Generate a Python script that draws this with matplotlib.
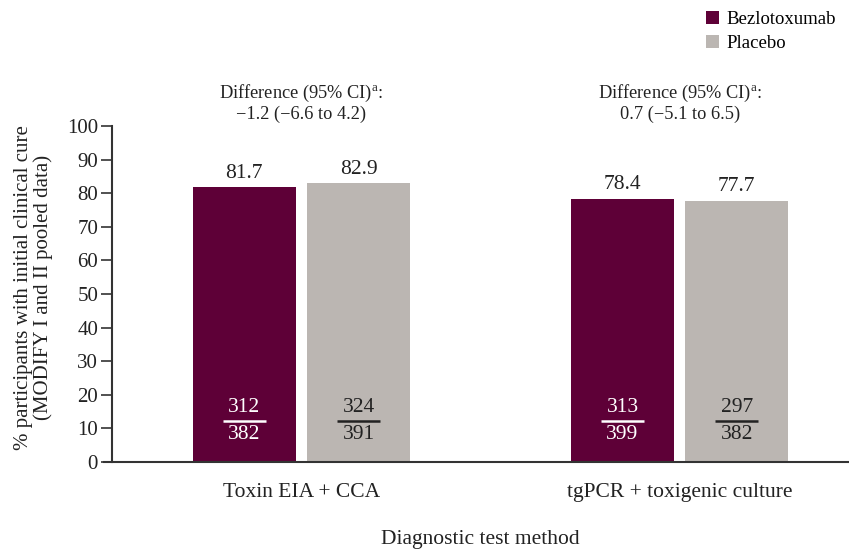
import matplotlib
matplotlib.use("Agg")
import matplotlib.pyplot as plt
from matplotlib.patches import Patch
import numpy as np

plt.rcParams['font.family'] = ['Liberation Serif', 'DejaVu Serif']
plt.rcParams['mathtext.fontset'] = 'custom'
plt.rcParams['mathtext.rm'] = 'Liberation Serif'
plt.rcParams['mathtext.it'] = 'Liberation Serif:italic'

categories = ["Toxin EIA + CCA", "tgPCR + toxigenic culture"]
series_names = ["Bezlotoxumab", "Placebo"]
bezlo = [81.7, 78.4]
placebo = [82.9, 77.7]
bezlo_n = [312, 313]
bezlo_d = [382, 399]
placebo_n = [324, 297]
placebo_d = [391, 382]
diff_line2 = ["\u22121.2 (\u22126.6 to 4.2)", "0.7 (\u22125.1 to 6.5)"]
yticks = [0, 10, 20, 30, 40, 50, 60, 70, 80, 90, 100]

c_bez = "#5E0037"
c_pla = "#BBB6B2"
txt = "#222222"

fig = plt.figure(figsize=(8.49, 5.5), dpi=100)
ax = fig.add_axes([112/849, 88/550, 737/849, 336/550])

x = np.arange(len(categories))
w = 0.2725
off = 0.151
ax.bar(x - off, bezlo, width=w, color=c_bez, zorder=2)
ax.bar(x + off, placebo, width=w, color=c_pla, zorder=2)

fs_val = 15.5
fs_diff = 13.2
for i in range(len(categories)):
    for xi, v, n, d, tc in [(x[i] - off, bezlo[i], bezlo_n[i], bezlo_d[i], "white"),
                            (x[i] + off, placebo[i], placebo_n[i], placebo_d[i], txt)]:
        ax.text(xi, v + 4.3, f"{v:.1f}", ha="center", va="center", fontsize=fs_val, color=txt)
        ax.text(xi, 16.3, str(n), ha="center", va="center", fontsize=fs_val, color=tc)
        ax.plot([xi - 0.057, xi + 0.057], [12.2, 12.2], color=tc, lw=1.8, zorder=3,
                solid_capstyle="butt")
        ax.text(xi, 8.3, str(d), ha="center", va="center", fontsize=fs_val, color=tc)
    ax.text(x[i], 109.6, "Difference (95% CI)$^{\\mathrm{a}}$:", ha="center", va="center",
            fontsize=fs_diff, color=txt)
    ax.text(x[i], 103.4, diff_line2[i], ha="center", va="center", fontsize=fs_diff, color=txt)

ax.spines["bottom"].set_position(("data", 0))
ax.set_xlim(-0.501, 1.448)
ax.set_ylim(0, 100)
ax.set_yticks(yticks)
ax.set_yticklabels([str(t) for t in yticks], fontsize=15, color=txt)
ax.set_xticks(x)
ax.set_xticklabels(categories, fontsize=15.5, color=txt)
ax.tick_params(axis="x", length=0, pad=15)
ax.tick_params(axis="y", length=8, width=1.2, color="#333333", pad=2)
for s in ["top", "right"]:
    ax.spines[s].set_visible(False)
for s in ["left", "bottom"]:
    ax.spines[s].set_color("#333333")
    ax.spines[s].set_linewidth(1.5)
ax.spines["bottom"].set_bounds(-0.523, 1.448)

ax.set_ylabel("% participants with initial clinical cure\n(MODIFY I and II pooled data)",
              fontsize=15, color=txt, linespacing=1.05)
ax.yaxis.set_label_coords(-0.08, 0.52)
ax.set_xlabel("Diagnostic test method", fontsize=15.5, color=txt, labelpad=20)

handles = [Patch(facecolor=c_bez, edgecolor="none"), Patch(facecolor=c_pla, edgecolor="none")]
fig.legend(handles, series_names, loc="upper left", bbox_to_anchor=(695/849, 1.0),
           frameon=False, fontsize=13.5, handlelength=0.7, handleheight=0.7,
           handletextpad=0.4, labelspacing=0.35, borderaxespad=0.2)

fig.savefig("out.png", dpi=100, facecolor="white")
